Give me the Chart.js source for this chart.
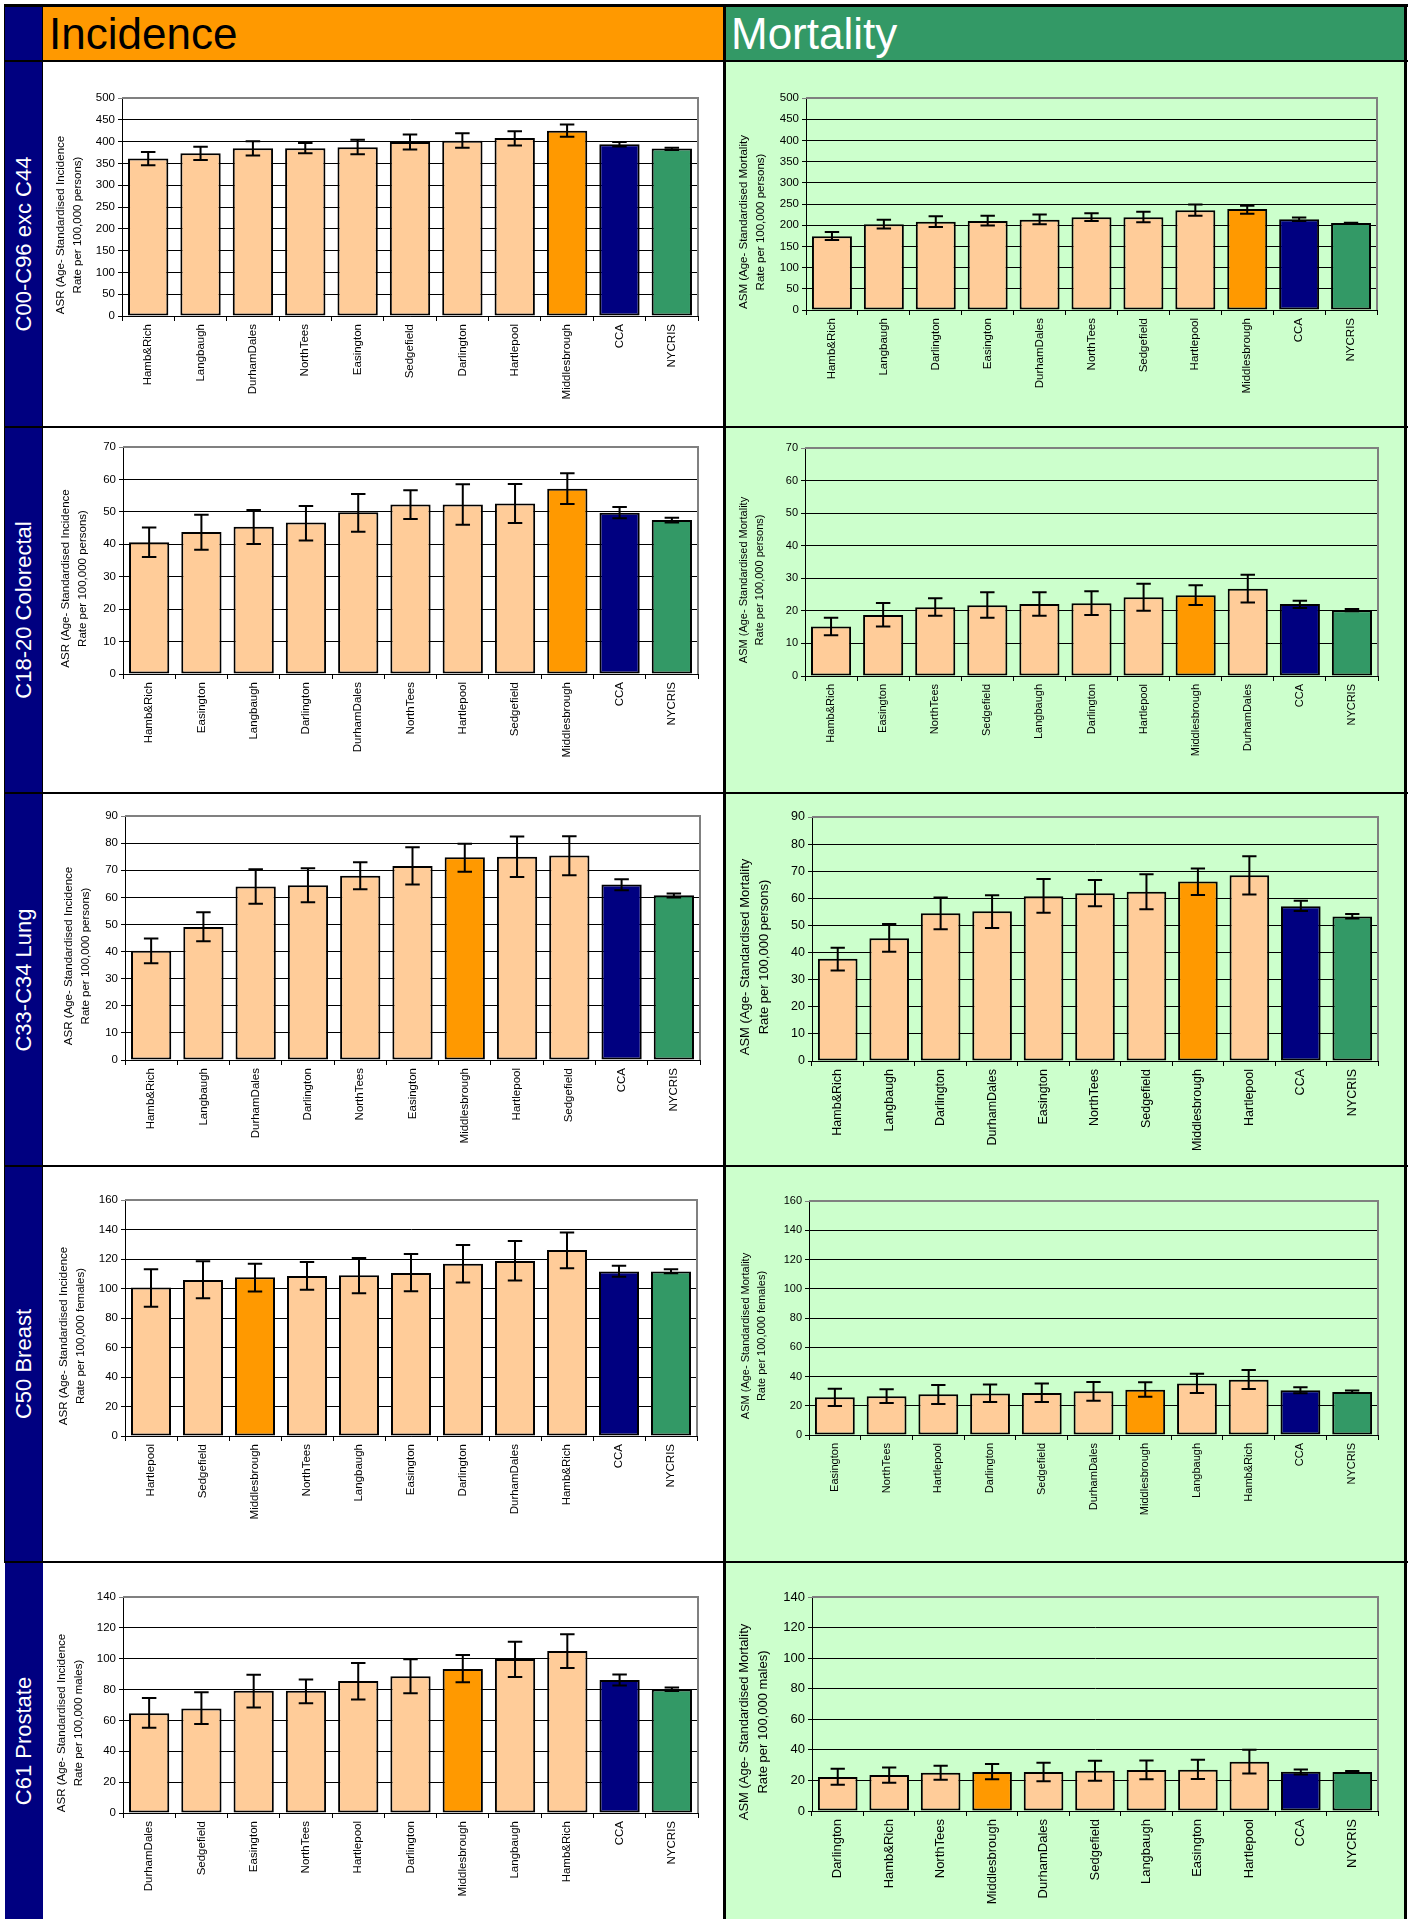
<!DOCTYPE html>
<html>
<head>
<meta charset="utf-8">
<title>Incidence and Mortality</title>
<script src="https://cdn.jsdelivr.net/npm/chart.js"></script>
<style>
  html, body { margin: 0; padding: 0; background: #fff; font-family: 'Liberation Sans', Arial, sans-serif; }
  #page { position: relative; width: 1412px; height: 1919px; overflow: hidden; }
  .blk { position: absolute; background: #000; }
  .head { position: absolute; top: 7px; height: 53px; font-size: 44px; line-height: 53px; padding-left: 6px; box-sizing: border-box; }
  .navy { position: absolute; left: 5px; width: 38px; background: #000080; }
  .rowlab { position: absolute; left: 24px; color: #fff; font-size: 22px; white-space: nowrap;
            transform: translate(-50%, -50%) rotate(-90deg); }
  .bg { position: absolute; }
  canvas { position: absolute; }
</style>
</head>
<body>
<div id="page"></div>

<script>
// ---- data ----
const allIncLabels = ['Hamb&Rich','Langbaugh','DurhamDales','NorthTees','Easington','Sedgefield','Darlington','Hartlepool','Middlesbrough','CCA','NYCRIS'];
const allIncValues = [361, 373, 385, 385, 387, 399, 402, 408, 425, 394, 384];
const allIncLow    = [346, 358, 368, 373, 371, 382, 386, 391, 411, 389, 381];
const allIncHigh   = [376, 388, 401, 397, 404, 416, 419, 424, 439, 399, 386];

const allMortLabels = ['Hamb&Rich','Langbaugh','Darlington','Easington','DurhamDales','NorthTees','Sedgefield','Hartlepool','Middlesbrough','CCA','NYCRIS'];
const allMortValues = [174, 202, 208, 210, 213, 219, 219, 235, 238, 214, 205];
const allMortLow    = [165, 192, 196, 199, 202, 210, 207, 222, 227, 210, 203];
const allMortHigh   = [184, 213, 221, 222, 225, 228, 232, 249, 246, 218, 206];

const colIncLabels = ['Hamb&Rich','Easington','Langbaugh','Darlington','DurhamDales','NorthTees','Hartlepool','Sedgefield','Middlesbrough','CCA','NYCRIS'];
const colIncValues = [40.6, 43.8, 45.4, 46.7, 49.9, 52.3, 52.3, 52.6, 57.1, 49.7, 47.5];
const colIncLow    = [36.1, 38.3, 40.1, 41.2, 43.9, 47.8, 46.0, 46.6, 52.4, 48.0, 46.7];
const colIncHigh   = [45.2, 49.1, 50.6, 51.8, 55.5, 56.7, 58.5, 58.6, 61.9, 51.5, 48.2];

const colMortLabels = ['Hamb&Rich','Easington','NorthTees','Sedgefield','Langbaugh','Darlington','Hartlepool','Middlesbrough','DurhamDales','CCA','NYCRIS'];
const colMortValues = [15.2, 18.7, 21.1, 21.7, 22.1, 22.3, 24.2, 24.8, 26.8, 22.1, 20.2];
const colMortLow    = [12.5, 15.2, 18.5, 17.9, 18.5, 18.7, 20.0, 21.8, 22.6, 20.9, 19.9];
const colMortHigh   = [17.9, 22.4, 23.9, 25.7, 25.7, 26.0, 28.3, 27.9, 31.1, 23.1, 20.6];

const lungIncLabels = ['Hamb&Rich','Langbaugh','DurhamDales','Darlington','NorthTees','Easington','Middlesbrough','Hartlepool','Sedgefield','CCA','NYCRIS'];
const lungIncValues = [40.3, 49.1, 64.0, 64.5, 68.0, 71.6, 74.8, 75.0, 75.4, 64.7, 60.8];
const lungIncLow    = [35.7, 43.8, 57.6, 58.2, 63.0, 64.7, 69.4, 67.5, 68.1, 62.6, 59.9];
const lungIncHigh   = [44.8, 54.5, 70.4, 70.7, 72.9, 78.5, 79.8, 82.4, 82.5, 66.7, 61.4];

const lungMortLabels = ['Hamb&Rich','Langbaugh','Darlington','DurhamDales','Easington','NorthTees','Sedgefield','Middlesbrough','Hartlepool','CCA','NYCRIS'];
const lungMortValues = [37.7, 45.3, 54.5, 55.2, 60.8, 61.9, 62.4, 66.2, 68.5, 57.1, 53.3];
const lungMortLow    = [33.4, 40.3, 48.6, 49.1, 54.7, 57.1, 56.0, 61.2, 61.4, 55.3, 52.6];
const lungMortHigh   = [41.8, 50.5, 60.3, 61.1, 67.1, 66.8, 68.9, 71.0, 75.5, 59.1, 54.2];

const breastIncLabels = ['Hartlepool','Sedgefield','Middlesbrough','NorthTees','Langbaugh','Easington','Darlington','DurhamDales','Hamb&Rich','CCA','NYCRIS'];
const breastIncValues = [100.6, 105.8, 107.6, 108.5, 108.9, 110.5, 116.8, 118.6, 126.1, 111.6, 111.6];
const breastIncLow    = [87.7, 93.4, 97.9, 99.2, 96.7, 98.1, 104.0, 105.5, 113.7, 108.0, 110.3];
const breastIncHigh   = [113.0, 118.4, 116.8, 118.0, 120.7, 123.4, 129.5, 132.2, 137.9, 115.5, 113.0];

const breastMortLabels = ['Easington','NorthTees','Hartlepool','Darlington','Sedgefield','DurhamDales','Middlesbrough','Langbaugh','Hamb&Rich','CCA','NYCRIS'];
const breastMortValues = [25.8, 26.5, 27.8, 28.3, 28.8, 29.9, 31.0, 35.2, 37.7, 30.6, 29.4];
const breastMortLow    = [19.9, 21.9, 21.2, 22.6, 22.6, 23.5, 26.2, 28.8, 31.5, 28.5, 28.8];
const breastMortHigh   = [31.7, 31.3, 34.2, 34.5, 35.2, 36.3, 36.1, 41.8, 44.5, 32.6, 30.4];

const prosIncLabels = ['DurhamDales','Sedgefield','Easington','NorthTees','Hartlepool','Darlington','Middlesbrough','Langbaugh','Hamb&Rich','CCA','NYCRIS'];
const prosIncValues = [64.6, 67.8, 79.3, 79.3, 85.5, 88.6, 93.3, 99.8, 105.0, 86.2, 80.1];
const prosIncLow    = [55.3, 57.7, 68.3, 71.1, 73.5, 77.6, 84.7, 88.1, 94.0, 82.7, 79.1];
const prosIncHigh   = [74.5, 78.2, 89.6, 86.6, 97.2, 99.6, 102.4, 111.0, 115.8, 89.7, 81.4];

const prosMortLabels = ['Darlington','Hamb&Rich','NorthTees','Middlesbrough','DurhamDales','Sedgefield','Langbaugh','Easington','Hartlepool','CCA','NYCRIS'];
const prosMortValues = [22.2, 23.5, 25.0, 25.5, 25.5, 26.3, 26.8, 27.0, 32.2, 25.7, 25.5];
const prosMortLow    = [17.2, 18.5, 20.5, 20.7, 19.4, 19.8, 20.7, 20.9, 24.6, 23.9, 24.8];
const prosMortHigh   = [27.7, 28.5, 29.6, 30.7, 31.6, 32.9, 33.1, 33.5, 40.1, 27.2, 26.1];

const rowNames = ['C00-C96 exc C44', 'C18-20 Colorectal', 'C33-C34 Lung', 'C50 Breast', 'C61 Prostate'];
const incTitle = who => ['ASR (Age- Standardised Incidence', 'Rate per 100,000 ' + who + ')'];
const mortTitle = who => ['ASM (Age- Standardised Mortality', 'Rate per 100,000 ' + who + ')'];

// ---- layout (page pixels) ----
const rows = [[62, 364], [428, 364], [794, 371], [1167, 394], [1563, 356]];
const cols = [[43, 680], [726, 678]];

const panels = [
  { row: 0, col: 0, labels: allIncLabels, values: allIncValues, low: allIncLow, high: allIncHigh, max: 500, step: 50, title: incTitle('persons'), plot: [122, 98, 698, 316], tx: 69, fs: 11.5 },
  { row: 0, col: 1, labels: allMortLabels, values: allMortValues, low: allMortLow, high: allMortHigh, max: 500, step: 50, title: mortTitle('persons'), plot: [806, 98, 1377, 310], tx: 752, fs: 11.5 },
  { row: 1, col: 0, labels: colIncLabels, values: colIncValues, low: colIncLow, high: colIncHigh, max: 70, step: 10, title: incTitle('persons'), plot: [123, 447, 698, 674], tx: 74, fs: 11.5 },
  { row: 1, col: 1, labels: colMortLabels, values: colMortValues, low: colMortLow, high: colMortHigh, max: 70, step: 10, title: mortTitle('persons'), plot: [805, 448, 1378, 676], tx: 752, fs: 11 },
  { row: 2, col: 0, labels: lungIncLabels, values: lungIncValues, low: lungIncLow, high: lungIncHigh, max: 90, step: 10, title: incTitle('persons'), plot: [125, 816, 700, 1060], tx: 77, fs: 11.5 },
  { row: 2, col: 1, labels: lungMortLabels, values: lungMortValues, low: lungMortLow, high: lungMortHigh, max: 90, step: 10, title: mortTitle('persons'), plot: [812, 817, 1378, 1061], tx: 755, fs: 12.5 },
  { row: 3, col: 0, labels: breastIncLabels, values: breastIncValues, low: breastIncLow, high: breastIncHigh, max: 160, step: 20, title: incTitle('females'), plot: [125, 1200, 697, 1436], tx: 72, fs: 11.5 },
  { row: 3, col: 1, labels: breastMortLabels, values: breastMortValues, low: breastMortLow, high: breastMortHigh, max: 160, step: 20, title: mortTitle('females'), plot: [809, 1201, 1378, 1435], tx: 754, fs: 11 },
  { row: 4, col: 0, labels: prosIncLabels, values: prosIncValues, low: prosIncLow, high: prosIncHigh, max: 140, step: 20, title: incTitle('males'), plot: [123, 1597, 698, 1813], tx: 70, fs: 11.5 },
  { row: 4, col: 1, labels: prosMortLabels, values: prosMortValues, low: prosMortLow, high: prosMortHigh, max: 140, step: 20, title: mortTitle('males'), plot: [812, 1597, 1378, 1811], tx: 754, fs: 13 }
];

const FONT = "'Liberation Sans', Arial, sans-serif";
Chart.defaults.font.family = FONT;

function barColour(name) {
  if (name === 'Middlesbrough') return '#FF9900';
  if (name === 'CCA') return '#000080';
  if (name === 'NYCRIS') return '#339966';
  return '#FFCC99';
}

const page = document.getElementById('page');
function box(cls, l, t, w, h, bg) {
  const d = document.createElement('div');
  d.className = cls;
  Object.assign(d.style, { left: l + 'px', top: t + 'px', width: w + 'px', height: h + 'px' });
  if (bg) d.style.background = bg;
  page.appendChild(d);
  return d;
}

// backgrounds
rows.forEach(([t, h]) => {
  box('bg', cols[0][0], t, cols[0][1], h, '#fff');
  box('bg', cols[1][0], t, cols[1][1], h, '#CCFFCC');
});

// header
const h1 = box('head', 43, 7, 681, 53, '#FF9900'); h1.textContent = 'Incidence'; h1.style.color = '#000';
const h2 = box('head', 725, 7, 680, 53, '#339966'); h2.textContent = 'Mortality'; h2.style.color = '#fff';

// navy row-label column
box('navy', 5, 7, 38, 1912);
rows.forEach(([t, h], i) => {
  const d = document.createElement('div');
  d.className = 'rowlab';
  d.textContent = rowNames[i];
  d.style.top = (t + h / 2) + 'px';
  page.appendChild(d);
});

// black rules
box('blk', 4, 4, 1404, 3);
box('blk', 4, 60, 1404, 2);
rows.slice(1).forEach(([t]) => box('blk', 4, t - 2, 1404, 2));
box('blk', 723, 4, 3, 1915);
box('blk', 1404, 4, 3, 1915);
box('blk', 4, 4, 1, 1558);
box('blk', 42, 4, 1, 1558);

function panelPlugin(p, ox, oy) {
  return {
    id: 'panelExtras',
    beforeDatasetsDraw(chart) {
      const { ctx, chartArea: a } = chart;
      ctx.save();
      ctx.strokeStyle = '#808080';
      ctx.lineWidth = 2;
      ctx.beginPath();
      ctx.moveTo(a.left, a.top);
      ctx.lineTo(a.right, a.top);
      ctx.lineTo(a.right, a.bottom);
      ctx.stroke();
      ctx.restore();
    },
    afterDatasetsDraw(chart) {
      const { ctx, scales: { y } } = chart;
      const meta = chart.getDatasetMeta(0);
      ctx.save();
      ctx.strokeStyle = '#000';
      ctx.lineWidth = 2;
      meta.data.forEach((bar, i) => {
        const top = y.getPixelForValue(p.high[i]);
        const bot = y.getPixelForValue(p.low[i]);
        const half = bar.width * 0.18;
        ctx.beginPath();
        ctx.moveTo(bar.x, top); ctx.lineTo(bar.x, bot);
        ctx.moveTo(bar.x - half, top); ctx.lineTo(bar.x + half, top);
        ctx.moveTo(bar.x - half, bot); ctx.lineTo(bar.x + half, bot);
        ctx.stroke();
      });
      ctx.restore();
    },
    afterDraw(chart) {
      const { ctx, chartArea: a } = chart;
      const fs = p.row === 2 && p.col === 1 ? 13 : p.fs;
      const gap = fs * 1.45;
      ctx.save();
      ctx.translate(p.tx - ox, (a.top + a.bottom) / 2 + 18);
      ctx.rotate(-Math.PI / 2);
      ctx.fillStyle = '#000';
      ctx.font = fs + 'px ' + FONT;
      ctx.textAlign = 'center';
      ctx.textBaseline = 'middle';
      p.title.forEach((t, k) => ctx.fillText(t, 0, (k - (p.title.length - 1) / 2) * gap));
      ctx.restore();
    }
  };
}

panels.forEach(p => {
  const [ox, w] = cols[p.col];
  const [oy, h] = rows[p.row];
  const [pl, pt, pr, pb] = p.plot;
  const cv = document.createElement('canvas');
  cv.width = w; cv.height = h;
  cv.style.left = ox + 'px'; cv.style.top = oy + 'px';
  cv.style.width = w + 'px'; cv.style.height = h + 'px';
  page.appendChild(cv);

  const font = { family: FONT, size: p.fs };
  new Chart(cv, {
    type: 'bar',
    data: {
      labels: p.labels,
      datasets: [{
        data: p.values,
        backgroundColor: p.labels.map(barColour),
        borderColor: '#000',
        borderWidth: 2,
        borderSkipped: false,
        categoryPercentage: 1,
        barPercentage: 0.77
      }]
    },
    options: {
      responsive: false,
      animation: false,
      layout: { padding: { left: 0, top: pt - oy, right: ox + w - pr, bottom: 0 } },
      plugins: { legend: { display: false }, tooltip: { enabled: false } },
      scales: {
        x: {
          grid: { offset: true, drawOnChartArea: false, color: '#000', tickLength: 5 },
          border: { color: '#000', width: 1 },
          ticks: { color: '#000', font: font, minRotation: 90, maxRotation: 90, autoSkip: false, padding: 3 },
          afterFit: s => { s.height = oy + h - pb; }
        },
        y: {
          min: 0,
          max: p.max,
          ticks: { stepSize: p.step, color: '#000', font: font, padding: 3 },
          grid: { color: c => (c.tick && c.tick.value === p.max ? '#808080' : '#000'), tickLength: 4 },
          border: { color: '#000', width: 1 },
          afterFit: s => { s.width = pl - ox; }
        }
      }
    },
    plugins: [panelPlugin(p, ox, oy)]
  });
});
</script>
</body>
</html>
